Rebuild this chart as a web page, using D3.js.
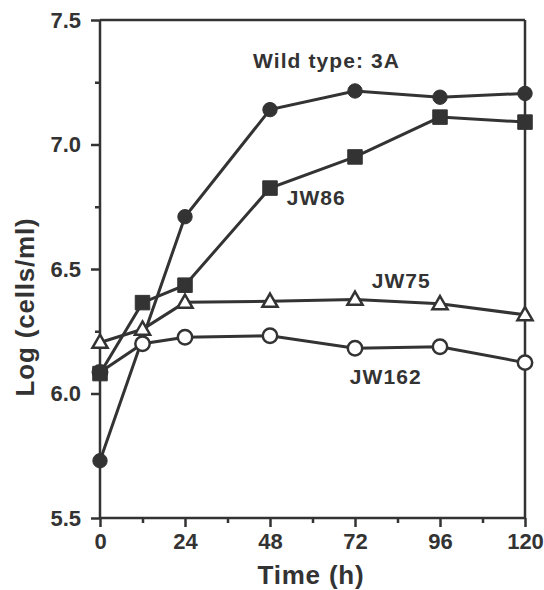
<!DOCTYPE html>
<html><head><meta charset="utf-8">
<script src="https://cdn.jsdelivr.net/npm/d3@7"></script>
<style>html,body{margin:0;padding:0;background:#fff;}svg{display:block;}</style>
</head><body>
<script>
const times = [0, 12, 24, 48, 72, 96, 120];
const wildTimes = [0, 24, 48, 72, 96, 120];
const wildType = [5.73, 6.71, 7.14, 7.215, 7.19, 7.205];
const jw86 = [6.08, 6.365, 6.435, 6.825, 6.95, 7.11, 7.09];
const jw75 = [6.205, 6.258, 6.366, 6.37, 6.378, 6.36, 6.316];
const jw162 = [6.085, 6.2, 6.226, 6.232, 6.182, 6.188, 6.124];
const xMajor = [0, 24, 48, 72, 96, 120];
const xMinor = [12, 36, 60, 84, 108];
const yMajor = [5.5, 6.0, 6.5, 7.0, 7.5];
const yMinor = [5.75, 6.25, 6.75, 7.25];
const labels = [
  {text: "Wild type: 3A", t: 43.2, v: 7.307},
  {text: "JW86", t: 52.7, v: 6.756},
  {text: "JW75", t: 76.7, v: 6.424},
  {text: "JW162", t: 70.5, v: 6.04}
];

const W = 544, H = 590;
const ink = "#333";
const svg = d3.select("body").append("svg").attr("width", W).attr("height", H);
const x = d3.scaleLinear().domain([0, 120]).range([100, 525]);
const y = d3.scaleLinear().domain([5.5, 7.5]).range([518, 20]);
const font = "'Liberation Sans', Arial, Helvetica, sans-serif";

// frame
svg.append("line").attr("x1", x(0)).attr("x2", x(120)).attr("y1", y(7.5)).attr("y2", y(7.5))
  .attr("stroke", ink).attr("stroke-width", 2.5);
svg.append("line").attr("x1", x(120)).attr("x2", x(120)).attr("y1", y(7.5)).attr("y2", y(5.5))
  .attr("stroke", ink).attr("stroke-width", 2.5);

// x axis
const xAxis = d3.axisBottom(x).tickValues(xMajor).tickSize(9).tickPadding(6).tickFormat(d3.format("d"));
const gx = svg.append("g").attr("transform", `translate(0,${y(5.5)})`).call(xAxis);
gx.selectAll("line").attr("stroke", ink).attr("stroke-width", 2.5);
gx.select(".domain").attr("stroke", ink).attr("stroke-width", 2.5).attr("d", `M${x(0)},0H${x(120)}`);
gx.selectAll("text").attr("font-family", font).attr("font-size", 22).attr("font-weight", "bold").attr("fill", ink);
const gxm = svg.append("g").attr("transform", `translate(0,${y(5.5)})`)
  .call(d3.axisBottom(x).tickValues(xMinor).tickSize(5).tickFormat(""));
gxm.select(".domain").remove();
gxm.selectAll("line").attr("stroke", ink).attr("stroke-width", 2.5);

// y axis
const yAxis = d3.axisLeft(y).tickValues(yMajor).tickSize(9).tickPadding(10).tickFormat(d3.format(".1f"));
const gy = svg.append("g").attr("transform", `translate(${x(0)},0)`).call(yAxis);
gy.selectAll("line").attr("stroke", ink).attr("stroke-width", 2.5);
gy.select(".domain").attr("stroke", ink).attr("stroke-width", 2.5).attr("d", `M0,${y(7.5)}V${y(5.5)}`);
gy.selectAll("text").attr("font-family", font).attr("font-size", 22).attr("font-weight", "bold").attr("fill", ink);
const gym = svg.append("g").attr("transform", `translate(${x(0)},0)`)
  .call(d3.axisLeft(y).tickValues(yMinor).tickSize(5).tickFormat(""));
gym.select(".domain").remove();
gym.selectAll("line").attr("stroke", ink).attr("stroke-width", 2.5);

// axis titles
svg.append("text").attr("x", 311).attr("y", 584).attr("text-anchor", "middle")
  .attr("font-family", font).attr("font-size", 26).attr("font-weight", "bold").attr("fill", ink)
  .attr("letter-spacing", 0.8).text("Time (h)");
svg.append("text").attr("transform", `translate(34,${307}) rotate(-90)`).attr("text-anchor", "middle")
  .attr("font-family", font).attr("font-size", 26).attr("font-weight", "bold").attr("fill", ink)
  .attr("letter-spacing", 0.8).text("Log (cells/ml)");

const line = d3.line().x(d => x(d[0])).y(d => y(d[1]));
const series = [
  {pts: wildTimes.map((t, i) => [t, wildType[i]]), shape: "circle", fill: ink},
  {pts: times.map((t, i) => [t, jw162[i]]), shape: "circle", fill: "#fff"},
  {pts: times.map((t, i) => [t, jw75[i]]), shape: "triangle", fill: "#fff"},
  {pts: times.map((t, i) => [t, jw86[i]]), shape: "square", fill: ink}
];
series.forEach(s => {
  svg.append("path").attr("d", line(s.pts)).attr("fill", "none").attr("stroke", ink).attr("stroke-width", 3);
});
const sym = {
  circle: d3.symbol().type(d3.symbolCircle).size(Math.PI * 7.2 * 7.2),
  square: d3.symbol().type(d3.symbolSquare).size(14.5 * 14.5),
  triangle: d3.symbol().type(d3.symbolTriangle).size(100)
};
series.forEach(s => {
  svg.append("g").selectAll("path").data(s.pts).join("path")
    .attr("transform", d => `translate(${x(d[0])},${y(d[1]) + (s.shape === "triangle" ? 1 : 0)})`)
    .attr("d", sym[s.shape]())
    .attr("fill", s.fill).attr("stroke", ink).attr("stroke-width", s.fill === "#fff" ? 2.5 : 1);
});

// series labels
labels.forEach(l => {
  svg.append("text").attr("x", x(l.t)).attr("y", y(l.v))
    .attr("font-family", font).attr("font-size", 21).attr("font-weight", "bold").attr("fill", ink)
    .attr("letter-spacing", 1.1).text(l.text);
});
</script>
</body></html>
